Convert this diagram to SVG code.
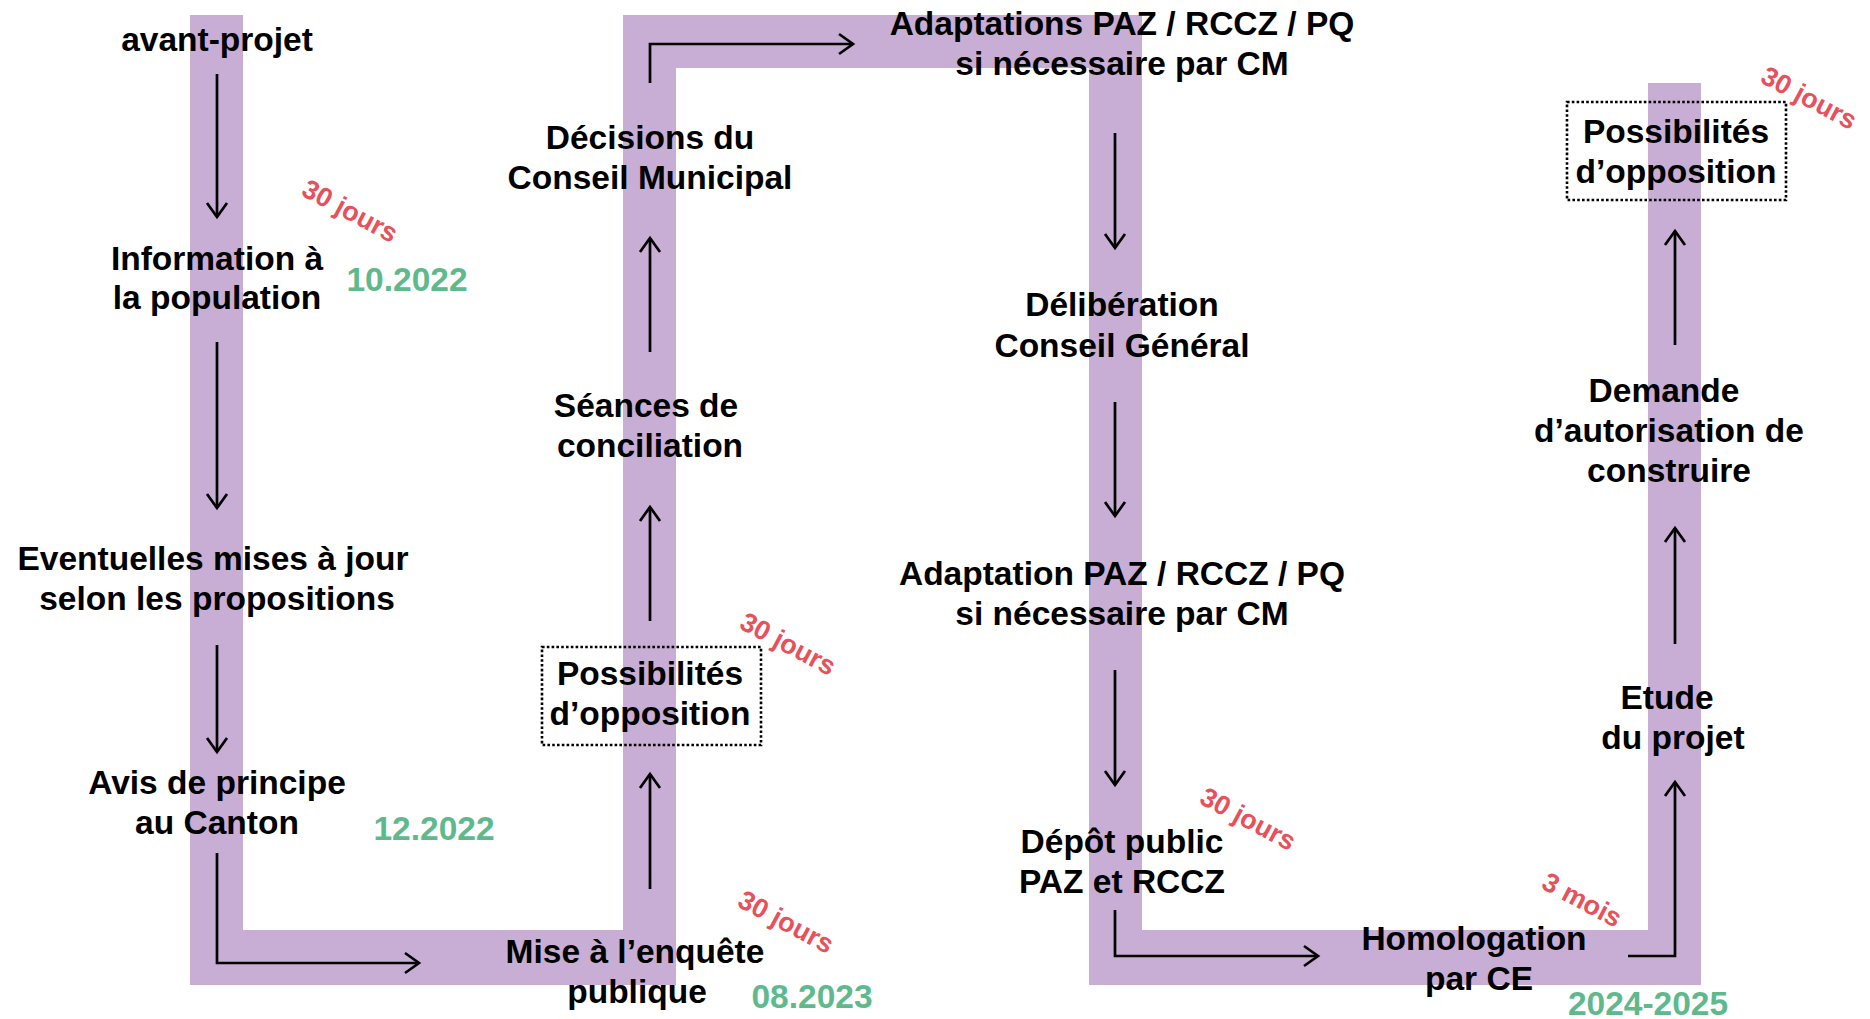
<svg xmlns="http://www.w3.org/2000/svg" width="1870" height="1019" viewBox="0 0 1870 1019">
<style>
.band{fill:#C8ADD4}
.t{font-family:"Liberation Sans",Arial,sans-serif;font-weight:bold;font-size:33.5px;fill:#000;text-anchor:middle}
.g{font-family:"Liberation Sans",Arial,sans-serif;font-weight:bold;font-size:33.5px;fill:#5EB98C;text-anchor:middle}
.r{font-family:"Liberation Sans",Arial,sans-serif;font-weight:bold;font-size:27px;fill:#E8505A;text-anchor:middle}
.box{fill:none;stroke:#000;stroke-width:2.6;stroke-dasharray:2.6 2.2}
.c{fill:none;stroke:#000;stroke-width:2.7}
</style>
<defs>
<marker id="ah" viewBox="0 0 30 30" refX="15" refY="15" markerWidth="30" markerHeight="30" markerUnits="userSpaceOnUse" orient="auto">
<path d="M1,5 L15,15 L1,25" fill="none" stroke="#000" stroke-width="2.7"/>
</marker>
</defs>
<g id="bands">
<rect class="band" x="190" y="15" width="53" height="970"/>
<rect class="band" x="190" y="930" width="486" height="55"/>
<rect class="band" x="623" y="15" width="53" height="970"/>
<rect class="band" x="623" y="15" width="519" height="53"/>
<rect class="band" x="1089" y="15" width="53" height="970"/>
<rect class="band" x="1089" y="930" width="612" height="55"/>
<rect class="band" x="1648" y="83" width="53" height="902"/>
</g>
<g id="connectors">
<path class="c" d="M217,74 V217" marker-end="url(#ah)"/>
<path class="c" d="M217,342 V508" marker-end="url(#ah)"/>
<path class="c" d="M217,645 V752" marker-end="url(#ah)"/>
<path class="c" d="M217,853 V963 H419" marker-end="url(#ah)"/>
<path class="c" d="M650,889 V774" marker-end="url(#ah)"/>
<path class="c" d="M650,621 V507" marker-end="url(#ah)"/>
<path class="c" d="M650,352 V238" marker-end="url(#ah)"/>
<path class="c" d="M650,83 V44 H853" marker-end="url(#ah)"/>
<path class="c" d="M1115,133 V248" marker-end="url(#ah)"/>
<path class="c" d="M1115,402 V516" marker-end="url(#ah)"/>
<path class="c" d="M1115,670 V785" marker-end="url(#ah)"/>
<path class="c" d="M1115,910 V956 H1318" marker-end="url(#ah)"/>
<path class="c" d="M1628,956 H1675 V782" marker-end="url(#ah)"/>
<path class="c" d="M1675,644 V528" marker-end="url(#ah)"/>
<path class="c" d="M1675,345 V231" marker-end="url(#ah)"/>
</g>
<g id="avant-projet"><text class="t" x="217" y="51">avant-projet</text></g>
<g id="information"><text class="t" x="217" y="270">Information à</text><text class="t" x="217" y="309">la population</text></g>
<g id="mises-a-jour"><text class="t" x="213" y="570">Eventuelles mises à jour</text><text class="t" x="217" y="610">selon les propositions</text></g>
<g id="avis-canton"><text class="t" x="217" y="794">Avis de principe</text><text class="t" x="217" y="834">au Canton</text></g>
<g id="mise-enquete"><text class="t" x="635" y="963">Mise à l’enquête</text><text class="t" x="637" y="1003">publique</text></g>
<g id="opposition-1"><rect class="box" x="542" y="647" width="219" height="98"/><text class="t" x="650" y="685">Possibilités</text><text class="t" x="650" y="725">d’opposition</text></g>
<g id="seances"><text class="t" x="646" y="417">Séances de</text><text class="t" x="650" y="457">conciliation</text></g>
<g id="decisions"><text class="t" x="650" y="149">Décisions du</text><text class="t" x="650" y="189">Conseil Municipal</text></g>
<g id="adaptations-1"><text class="t" x="1122" y="35">Adaptations PAZ / RCCZ / PQ</text><text class="t" x="1122" y="75">si nécessaire par CM</text></g>
<g id="deliberation"><text class="t" x="1122" y="316">Délibération</text><text class="t" x="1122" y="357">Conseil Général</text></g>
<g id="adaptation-2"><text class="t" x="1122" y="585">Adaptation PAZ / RCCZ / PQ</text><text class="t" x="1122" y="625">si nécessaire par CM</text></g>
<g id="depot-public"><text class="t" x="1122" y="853">Dépôt public</text><text class="t" x="1122" y="893">PAZ et RCCZ</text></g>
<g id="homologation"><text class="t" x="1474" y="950">Homologation</text><text class="t" x="1479" y="990">par CE</text></g>
<g id="etude"><text class="t" x="1667" y="709">Etude</text><text class="t" x="1673" y="749">du projet</text></g>
<g id="demande"><text class="t" x="1664" y="402">Demande</text><text class="t" x="1669" y="442">d’autorisation de</text><text class="t" x="1669" y="482">construire</text></g>
<g id="opposition-2"><rect class="box" x="1567" y="102" width="219" height="98"/><text class="t" x="1676" y="143">Possibilités</text><text class="t" x="1676" y="183">d’opposition</text></g>
<g id="dates">
<text class="g" x="407" y="291">10.2022</text>
<text class="g" x="434" y="840">12.2022</text>
<text class="g" x="812" y="1008">08.2023</text>
<text class="g" x="1648" y="1015">2024-2025</text>
</g>
<g id="durations">
<text class="r" transform="translate(350,211) rotate(28)" y="9">30 jours</text>
<text class="r" transform="translate(788,644) rotate(28)" y="9">30 jours</text>
<text class="r" transform="translate(786,922) rotate(28)" y="9">30 jours</text>
<text class="r" transform="translate(1248,819) rotate(28)" y="9">30 jours</text>
<text class="r" transform="translate(1809,98) rotate(28)" y="9">30 jours</text>
<text class="r" transform="translate(1582,900) rotate(28)" y="9">3 mois</text>
</g>
</svg>
